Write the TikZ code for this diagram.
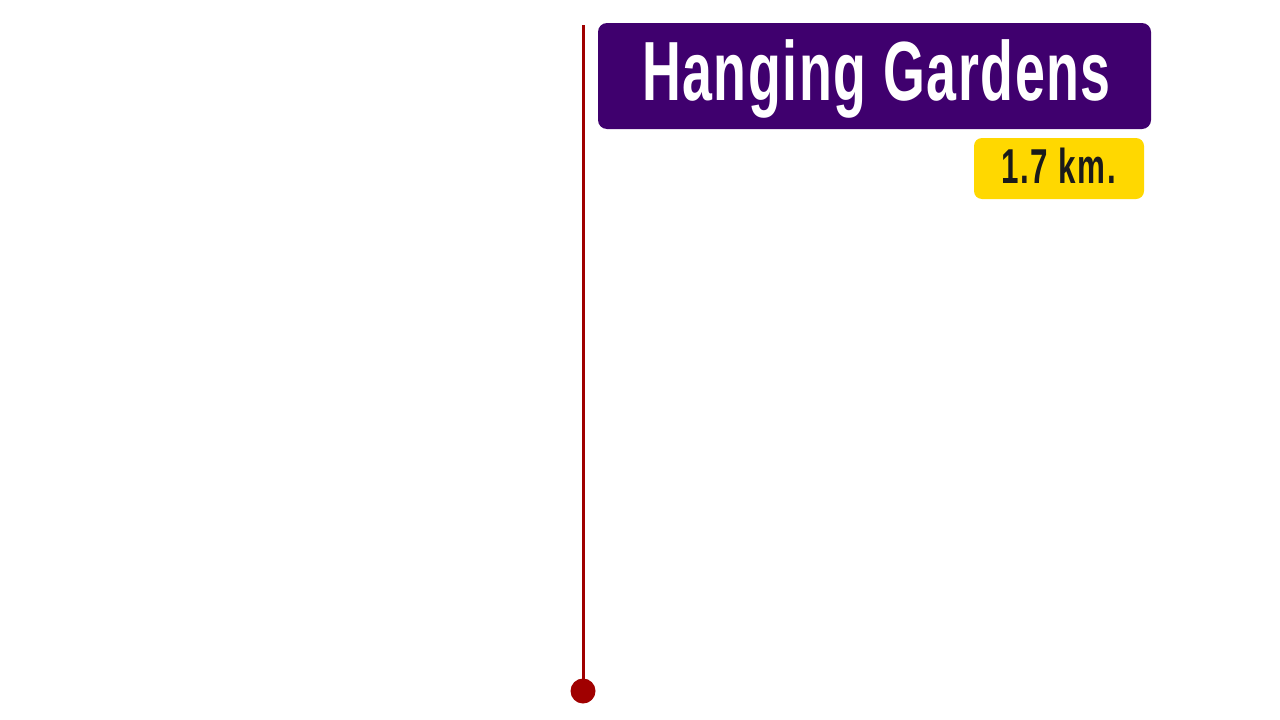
\documentclass[tikz,border=0pt]{standalone}
\usepackage{fontspec}
\newfontfamily\condfont{Liberation Sans}[FakeStretch=0.64,LetterSpace=1.9]
\newfontfamily\conddistfont{Liberation Sans}[FakeStretch=0.64,LetterSpace=3.5]
\definecolor{boxpurple}{HTML}{3F006E}
\definecolor{boxyellow}{HTML}{FFD800}
\definecolor{linered}{HTML}{A00000}
\definecolor{darktext}{HTML}{1A1A1A}
\begin{document}
\begin{tikzpicture}[x=1pt,y=-1pt,
  titlebox/.style={fill=boxpurple,rounded corners=9pt,inner sep=0pt,minimum width=553pt,minimum height=106pt},
  distbox/.style={fill=boxyellow,rounded corners=8pt,inner sep=0pt,minimum width=170pt,minimum height=61pt},
  titletext/.style={text=white,font=\condfont\bfseries\fontsize{84}{90}\selectfont,inner sep=0pt,anchor=base},
  disttext/.style={text=darktext,font=\conddistfont\bfseries\fontsize{49}{56}\selectfont,inner sep=0pt,anchor=base},
  timeline/.style={draw=linered,line width=3pt},
  enddot/.style={circle,fill=linered,inner sep=0pt,minimum size=25pt}]
\useasboundingbox (0,0) rectangle (1280,720);
\node[titlebox] (title) at (874.5,76) {};
\node[distbox] (dist) at (1059,168.5) {};
\node[titletext] (titlelabel) at (876.5,100) {Hanging Gardens};
\node[disttext] (distlabel) at (1058.5,183.5) {1.7 km.};
\coordinate (linetop) at (583,25);
\node[enddot] (dot) at (583,691) {};
\draw[timeline] (linetop) -- (dot.center);
\end{tikzpicture}
\end{document}
